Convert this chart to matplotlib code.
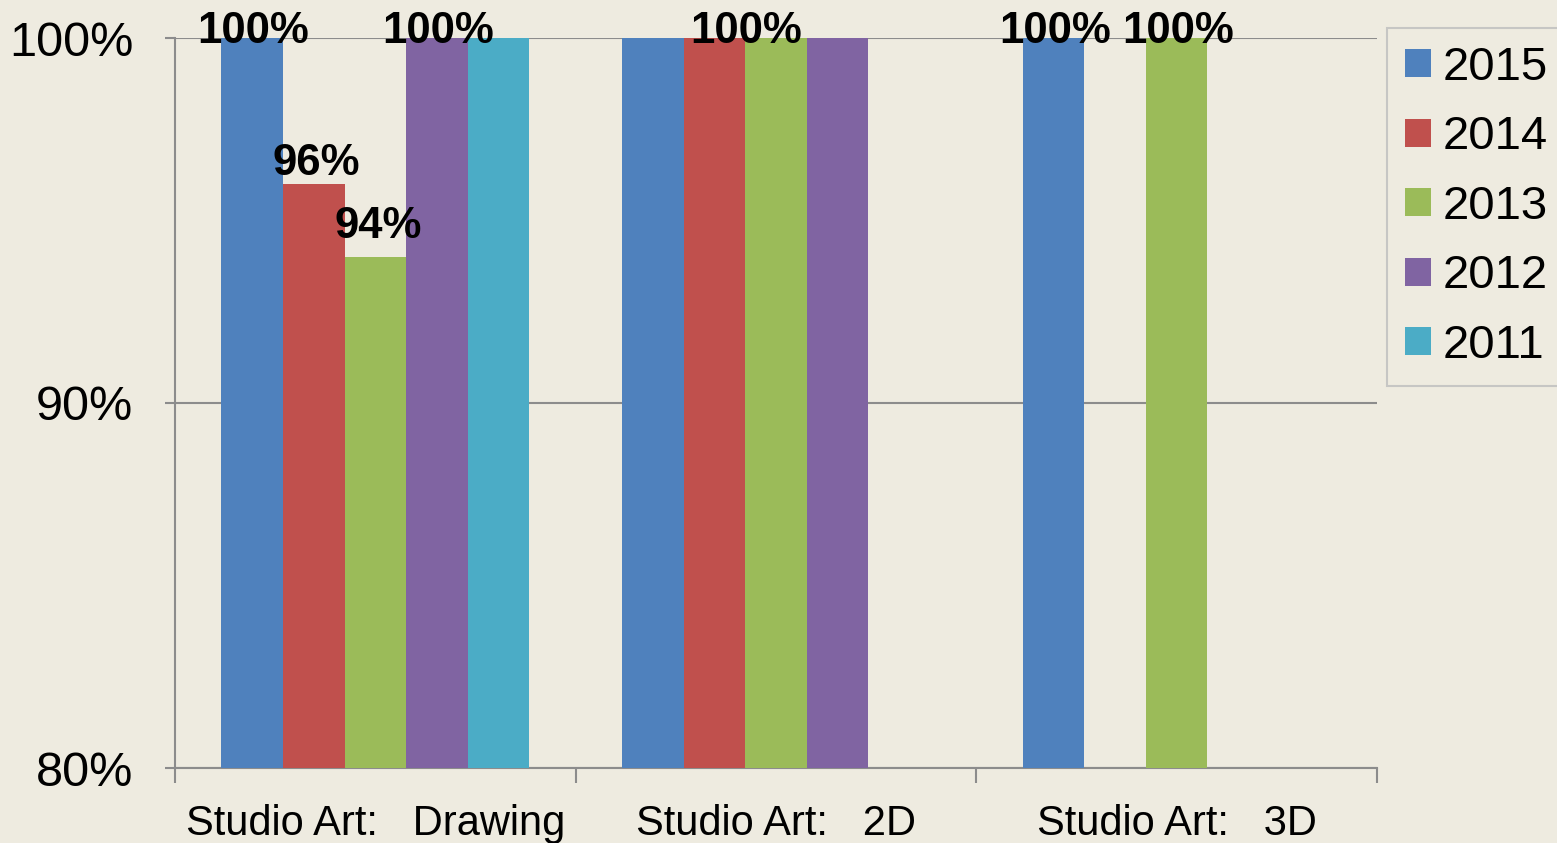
import numpy as np
import matplotlib
matplotlib.use("Agg")
import matplotlib.pyplot as plt
from matplotlib.transforms import offset_copy

plt.rcParams['font.family'] = ['Liberation Sans', 'DejaVu Sans']

categories = ["Studio Art:   Drawing", "Studio Art:   2D", "Studio Art:   3D"]
series = ["2015", "2014", "2013", "2012", "2011"]
nan = np.nan
v2015 = [100, 100, 100]
v2014 = [96, 100, nan]
v2013 = [94, 100, 100]
v2012 = [100, 100, nan]
v2011 = [100, nan, nan]
values = [v2015, v2014, v2013, v2012, v2011]

# data labels shown in the reference ("" = no label)
lab2015 = ["100%", "", "100%"]
lab2014 = ["96%", "", ""]
lab2013 = ["94%", "100%", "100%"]
lab2012 = ["100%", "", ""]
lab2011 = ["", "", ""]
labels = [lab2015, lab2014, lab2013, lab2012, lab2011]

yticks = [80, 90, 100]
ytick_labels = ["80%", "90%", "100%"]

colors = ["#4F81BD", "#C0504D", "#9BBB59", "#8064A2", "#4BACC6"]
bg = "#EEEBE0"
axis_grey = "#8C8C8C"

W, H = 1557, 843
fig = plt.figure(figsize=(W / 100, H / 100), dpi=100, facecolor=bg)
ax = fig.add_axes([175 / W, 1 - 768 / H, (1377 - 175) / W, (768 - 38) / H])
ax.set_facecolor(bg)

n = len(series)
bw = 1.0 / (n + 1.5)
x = np.arange(len(categories))
containers = []
for i, (name, vals, c) in enumerate(zip(series, values, colors)):
    bc = ax.bar(x + (i - (n - 1) / 2) * bw, vals, width=bw, color=c, label=name,
                zorder=3, linewidth=0)
    containers.append(bc)

ax.set_xlim(-0.5, len(categories) - 0.5)
ax.set_ylim(80, 100)
ax.set_yticks(yticks)
ax.set_yticklabels(ytick_labels, fontsize=35)
ax.yaxis.grid(True, color=axis_grey, linewidth=1.5, zorder=1)
ax.set_axisbelow(True)

# x axis: category labels centred, tick marks on boundaries
ax.set_xticks(np.arange(-0.5, len(categories), 1.0))
ax.set_xticklabels([])
ax.set_xticks(x, minor=True)
ax.set_xticklabels(categories, minor=True, fontsize=30)
ax.tick_params(axis='x', which='major', length=11, width=1.5, color=axis_grey, direction='out')
ax.tick_params(axis='x', which='minor', length=0, pad=26)
ax.tick_params(axis='y', length=7, width=1.5, color=axis_grey, pad=23)

for s in ['top', 'right']:
    ax.spines[s].set_visible(False)
for s in ['left', 'bottom']:
    ax.spines[s].set_color(axis_grey)
    ax.spines[s].set_linewidth(1.5)

# data labels
for i, (bc, labs, vals) in enumerate(zip(containers, labels, values)):
    for j, (p, t) in enumerate(zip(bc.patches, labs)):
        if not t:
            continue
        cx = p.get_x() + p.get_width() / 2
        top = vals[j]
        if j == 1:  # 2D label sits over the 2014/2013 boundary
            cx = p.get_x()
        if top >= 100:
            dy = -3.5
        elif top >= 96:
            dy = 6.5
        else:
            dy = 13.5
        dx = 2 if top < 100 else 1
        tr = offset_copy(ax.transData, fig=fig, x=dx, y=dy, units='points')
        ax.text(cx, top, t, transform=tr, ha='center', va='baseline',
                fontsize=31.5, fontweight='bold', color='black', zorder=5, clip_on=False)

leg = fig.legend(loc='upper left', bbox_to_anchor=(1387 / W, 1 - 28 / H),
                 fontsize=34, frameon=True, fancybox=False, borderaxespad=0,
                 borderpad=0.38, labelspacing=0.54, handlelength=0.55,
                 handleheight=0.55, handletextpad=0.25)
leg.get_frame().set_edgecolor("#BDBDBD")
leg.get_frame().set_facecolor(bg)
leg.get_frame().set_linewidth(1.5)

fig.savefig("out.png", dpi=100, facecolor=bg)
